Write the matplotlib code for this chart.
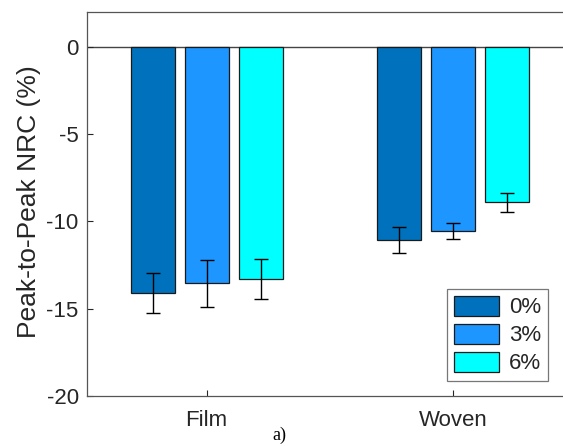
import numpy as np
import matplotlib.pyplot as plt

# data
groups = ['Film', 'Woven']
series = ['0%', '3%', '6%']
means = [[-14.1, -11.05],   # 0%
         [-13.55, -10.55],  # 3%
         [-13.3, -8.9]]     # 6%
errs = [[1.15, 0.75],
        [1.35, 0.47],
        [1.15, 0.55]]
colors = ['#0072BD', '#1E96FF', '#00FFFF']

plt.rcParams['font.family'] = ['Liberation Sans', 'DejaVu Sans']
plt.rcParams['axes.unicode_minus'] = False

fig = plt.figure(figsize=(5.63, 4.46), dpi=100)
ax = fig.add_axes([0.1545, 0.112, 0.869, 0.861])

x = np.arange(1, len(groups) + 1)
step = 0.219
w = 0.178
for i, (m, e, c) in enumerate(zip(means, errs, colors)):
    xi = x + (i - 1) * step
    ax.bar(xi, m, width=w, color=c, edgecolor='#1a1a1a', linewidth=0.9,
           label=series[i], zorder=2)
    ax.errorbar(xi, m, yerr=e, fmt='none', ecolor='black', elinewidth=1.0,
                capsize=5, capthick=1.0, zorder=3)

ax.axhline(0, color='#444444', linewidth=1.0, zorder=1)
ax.set_xlim(0.515, 2.499)
ax.set_ylim(-20, 2)
ax.set_xticks(x)
ax.set_xticklabels(groups)
ax.set_yticks([-20, -15, -10, -5, 0])
ax.set_ylabel('Peak-to-Peak NRC (%)', fontsize=19, color='#262626')
ax.yaxis.set_label_coords(-0.094, 0.505)
ax.tick_params(direction='in', labelsize=16, colors='#262626', length=4,
               width=0.8, pad=6)
ax.tick_params(axis='x', pad=10)
for s in ['left', 'bottom', 'top']:
    ax.spines[s].set_color('#555555')
    ax.spines[s].set_linewidth(0.9)
ax.spines['right'].set_visible(False)

leg = ax.legend(loc='lower left', bbox_to_anchor=(0.736, 0.039), fontsize=16,
                frameon=True, fancybox=False, edgecolor='#555555',
                handlelength=2.03, handleheight=1.0, handletextpad=0.45,
                borderpad=0.3, labelspacing=0.25, borderaxespad=0)
leg.get_frame().set_linewidth(0.9)
for t in leg.get_texts():
    t.set_color('#262626')

fig.text(0.497, 0.004, 'a)', family='Liberation Serif', fontsize=13,
         ha='center', va='bottom')

fig.savefig('out.png', dpi=100)
